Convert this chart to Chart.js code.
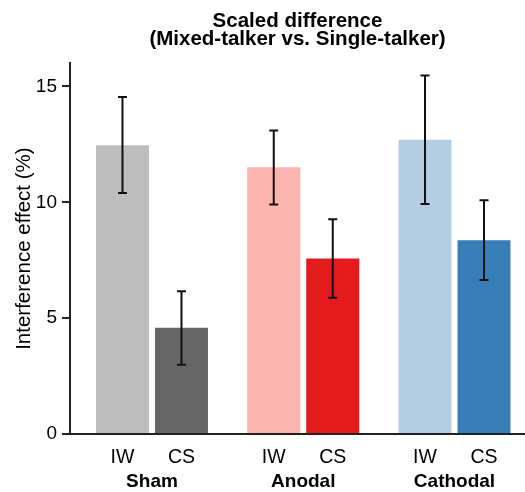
<!DOCTYPE html>
<html>
<head>
<meta charset="utf-8">
<script src="https://cdn.jsdelivr.net/npm/chart.js@4"></script>
<style>
  html, body { margin: 0; padding: 0; background: #fff; overflow: hidden; }
  canvas { display: block; }
</style>
</head>
<body>
<canvas id="effectChart" width="525" height="492"></canvas>
<script>
const groups = ["Sham", "Anodal", "Cathodal"];
const subLabels = ["IW", "CS"];

// bar heights (%)
const iwValues = [12.46, 11.51, 12.70];
const csValues = [4.58, 7.57, 8.36];

// error bar ends [low, high]
const iwErrors = [[10.40, 14.54], [9.90, 13.10], [9.93, 15.47]];
const csErrors = [[2.99, 6.16], [5.88, 9.27], [6.65, 10.09]];

const iwColors = ["#bdbdbd", "#fbb4ae", "#b3cde3"];
const csColors = ["#666666", "#e41a1c", "#377eb8"];

const yTicks = [0, 5, 10, 15];

const FONT = "'Liberation Sans', Arial, Helvetica, sans-serif";
const AXIS_COLOR = "#222";
const catPct = 0.78;
const xMin = -0.542, xMax = 2.466;

const groupPos = groups.map((g, i) => i);
const subPos = [];
groupPos.forEach(p => { subPos.push(p - catPct / 4); subPos.push(p + catPct / 4); });

const errorBars = {
    id: "errorBars",
    afterDatasetsDraw(chart) {
        const ctx = chart.ctx;
        const yScale = chart.scales.y;
        const errs = [iwErrors, csErrors];
        ctx.save();
        ctx.strokeStyle = "#111";
        ctx.lineWidth = 2;
        chart.data.datasets.forEach((ds, di) => {
            const meta = chart.getDatasetMeta(di);
            meta.data.forEach((bar, i) => {
                const lo = yScale.getPixelForValue(errs[di][i][0]);
                const hi = yScale.getPixelForValue(errs[di][i][1]);
                ctx.beginPath();
                ctx.moveTo(bar.x, lo); ctx.lineTo(bar.x, hi);
                ctx.moveTo(bar.x - 4.5, lo); ctx.lineTo(bar.x + 4.5, lo);
                ctx.moveTo(bar.x - 4.5, hi); ctx.lineTo(bar.x + 4.5, hi);
                ctx.stroke();
            });
        });
        ctx.restore();
    }
};

new Chart(document.getElementById("effectChart"), {
    type: "bar",
    data: {
        datasets: [
            {
                label: "IW",
                data: iwValues.map((v, i) => ({ x: groupPos[i], y: v })),
                backgroundColor: iwColors,
                xAxisID: "x"
            },
            {
                label: "CS",
                data: csValues.map((v, i) => ({ x: groupPos[i], y: v })),
                backgroundColor: csColors,
                xAxisID: "x"
            }
        ]
    },
    options: {
        responsive: false,
        animation: false,
        devicePixelRatio: 1,
        categoryPercentage: catPct,
        barPercentage: 0.898,
        layout: { padding: 0 },
        plugins: {
            legend: { display: false },
            tooltip: { enabled: false },
            title: {
                display: true,
                fullSize: false,
                text: ["Scaled difference", "(Mixed-talker vs. Single-talker)"],
                color: "#000",
                font: { family: FONT, size: 20.5, weight: "bold", lineHeight: 0.85 },
                padding: { top: 13, bottom: 15.4 }
            }
        },
        scales: {
            y: {
                min: 0,
                max: 16,
                afterBuildTicks: axis => { axis.ticks = yTicks.map(v => ({ value: v })); },
                afterFit: axis => { axis.width = 70; },
                border: { display: true, color: AXIS_COLOR, width: 2 },
                grid: { drawOnChartArea: false, drawTicks: true, tickLength: 8, color: AXIS_COLOR, lineWidth: 2 },
                ticks: { color: "#000", font: { family: FONT, size: 19 }, padding: 5 },
                title: {
                    display: true,
                    text: "Interference effect (%)",
                    color: "#000",
                    font: { family: FONT, size: 20.5 },
                    padding: { top: 12, bottom: 0 }
                }
            },
            xs: {
                type: "linear",
                position: "bottom",
                weight: 0,
                offset: false,
                min: xMin,
                max: xMax,
                afterBuildTicks: axis => { axis.ticks = subPos.map(v => ({ value: v })); },
                afterFit: axis => { axis.height = 34; },
                border: { display: true, color: AXIS_COLOR, width: 2 },
                grid: { display: false, drawTicks: false, offset: false },
                ticks: {
                    color: "#000",
                    font: { family: FONT, size: 19.5 },
                    padding: 12,
                    maxRotation: 0,
                    autoSkip: false,
                    callback: (v, i) => subLabels[i % 2]
                }
            },
            x: {
                type: "linear",
                position: "bottom",
                weight: 1,
                offset: false,
                min: xMin,
                max: xMax,
                afterBuildTicks: axis => { axis.ticks = groupPos.map(v => ({ value: v })); },
                afterFit: axis => { axis.height = 24; },
                border: { display: false },
                grid: { display: false, drawTicks: false, offset: false },
                ticks: {
                    color: "#000",
                    font: { family: FONT, size: 19, weight: "bold" },
                    padding: 2.4,
                    maxRotation: 0,
                    autoSkip: false,
                    callback: (v, i) => groups[i]
                }
            }
        }
    },
    plugins: [errorBars]
});
</script>
</body>
</html>
